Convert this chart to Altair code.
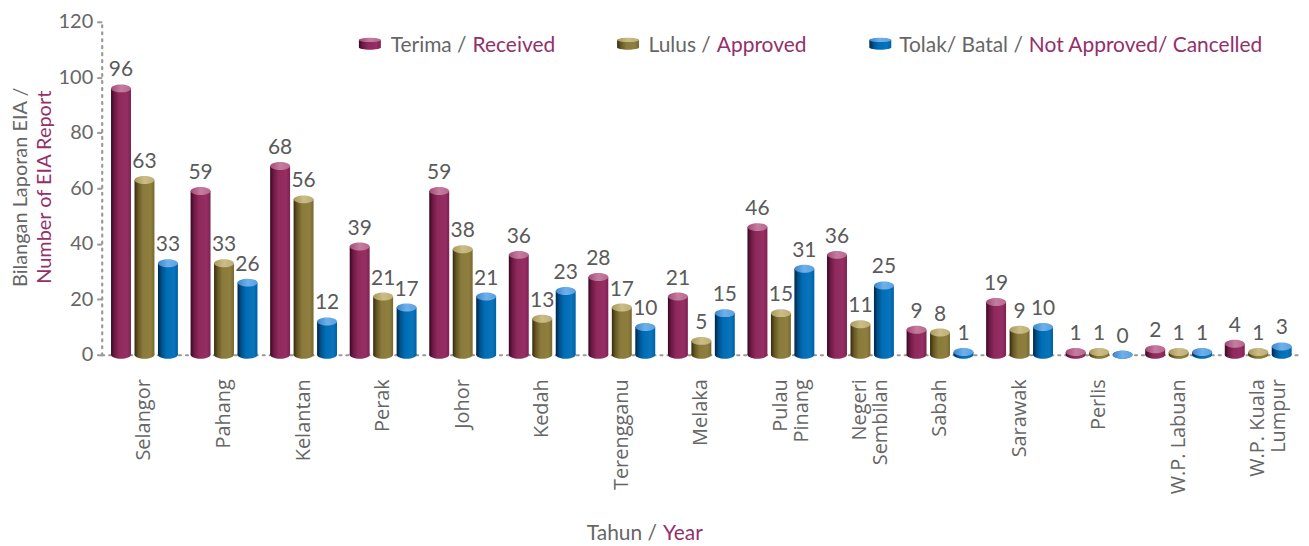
import altair as alt
import pandas as pd

# ---------------- data ----------------
states = ["Selangor", "Pahang", "Kelantan", "Perak", "Johor", "Kedah", "Terengganu",
          "Melaka", "Pulau|Pinang", "Negeri|Sembilan", "Sabah", "Sarawak", "Perlis",
          "W.P. Labuan", "W.P. Kuala|Lumpur"]
received = [96, 59, 68, 39, 59, 36, 28, 21, 46, 36, 9, 19, 1, 2, 4]
approved = [63, 33, 56, 21, 38, 13, 17, 5, 15, 11, 8, 9, 1, 1, 1]
rejected = [33, 26, 12, 17, 21, 23, 10, 15, 31, 25, 1, 10, 0, 1, 3]
series_keys = ["Terima", "Lulus", "Tolak"]
legend_grey = ["Terima /", "Lulus /", "Tolak/ Batal /"]
legend_red = ["Received", "Approved", "Not Approved/ Cancelled"]
y_ticks = [0, 20, 40, 60, 80, 100, 120]
y_title = ["Bilangan Laporan EIA /", "Number of EIA Report"]
x_title = ["Tahun /", "Year"]

rows = []
for i, s in enumerate(states):
    for key, vals in zip(series_keys, [received, approved, rejected]):
        rows.append({"state": s, "series": key, "value": vals[i]})
df = pd.DataFrame(rows)

# ---------------- styles ----------------
FONT = "Lato"
GREY = "#666666"
RED = "#93306a"
W, H = 1203, 334
TOP = 13


def lin(stops):
    return alt.Gradient(gradient="linear", x1=0, x2=1, y1=0, y2=0,
                        stops=[alt.GradientStop(offset=o, color=c) for o, c in stops])


body_grad = {
    "Terima": lin([(0, "#3a0822"), (0.18, "#6e1a45"), (0.42, "#8f2a5d"), (0.8, "#962e63"), (1, "#7c2251")]),
    "Lulus": lin([(0, "#352c0c"), (0.18, "#665724"), (0.42, "#8a7a3b"), (0.8, "#8f7f3f"), (1, "#786830")]),
    "Tolak": lin([(0, "#002447"), (0.18, "#00508a"), (0.42, "#006db5"), (0.8, "#0a74bc"), (1, "#0060a4")]),
}
top_grad = {
    "Terima": lin([(0, "#a24b77"), (0.5, "#c47d9f"), (1, "#b8688e")]),
    "Lulus": lin([(0, "#a8985c"), (0.5, "#cbbd86"), (1, "#bcae74")]),
    "Tolak": lin([(0, "#3b86cc"), (0.5, "#6fb0ea"), (1, "#5aa0e0")]),
}

ELLIPSE = "M-1,0 A1,0.4 0 1,0 1,0 A1,0.4 0 1,0 -1,0 Z"
ICON_BODY = "M-1,-0.35 L-1,0.35 A1,0.2 0 0,0 1,0.35 L1,-0.35 Z"
ICON_TOP = "M-1,-0.35 A1,0.2 0 1,0 1,-0.35 A1,0.2 0 1,0 -1,-0.35 Z"

X = alt.X("state:N", sort=states, title=None,
          scale=alt.Scale(domain=states, paddingInner=0, paddingOuter=0.0376),
          axis=alt.Axis(labelAngle=270, labelAlign="right", labelBaseline="middle",
                        labelPadding=24, ticks=False, labelFontSize=20, labelColor=GREY,
                        labelFont="Open Sans", labelLineHeight=21,
                        labelExpr="split(datum.label, '|')",
                        domainColor="#999999", domainWidth=2.2, domainDash=[2, 5],
                        domainCap="round"))
XO = alt.XOffset("series:N", sort=series_keys,
                 scale=alt.Scale(domain=series_keys, paddingInner=0.15, paddingOuter=0.27))
Y = alt.Y("value:Q", title=None, scale=alt.Scale(domain=[0, 120], nice=False),
          axis=alt.Axis(values=y_ticks, grid=False, tickSize=5, tickWidth=2, tickColor="#999999",
                        labelFontSize=20, labelColor=GREY, labelFont=FONT, labelPadding=4,
                        domainColor="#999999", domainWidth=2.2, domainDash=[2, 5],
                        domainCap="round"))

base = alt.Chart(df)
layers = []
for key in series_keys:
    sub = base.transform_filter(alt.datum.series == key)
    layers.append(sub.mark_bar(fill=body_grad[key]).encode(x=X, xOffset=XO, y=Y))
    layers.append(sub.mark_point(shape=ELLIPSE, size=400, filled=True, fill=body_grad[key],
                                 strokeWidth=0, opacity=1)
                  .encode(x=X, xOffset=XO, y=alt.datum(0)))
    layers.append(sub.mark_point(shape=ELLIPSE, size=400, filled=True, fill=top_grad[key],
                                 strokeWidth=0, opacity=1)
                  .encode(x=X, xOffset=XO, y=Y))

layers.append(base.mark_text(baseline="bottom", dy=-8, fontSize=21, color="#5a5a5a", font=FONT)
              .encode(x=X, xOffset=XO, y=Y, text="value:Q"))

# ---------------- legend ----------------
icon_x = [269, 528, 781]
seam_x = [372, 617, 930]
for i, key in enumerate(series_keys):
    one = alt.Chart(pd.DataFrame({"g": [legend_grey[i]], "r": [legend_red[i]]}))
    layers.append(one.mark_point(shape=ICON_BODY, size=484, filled=True, fill=body_grad[key],
                                 strokeWidth=0, opacity=1)
                  .encode(x=alt.value(icon_x[i]), y=alt.value(22)))
    layers.append(one.mark_point(shape=ICON_TOP, size=484, filled=True, fill=top_grad[key],
                                 strokeWidth=0, opacity=1)
                  .encode(x=alt.value(icon_x[i]), y=alt.value(22)))
    layers.append(one.mark_text(align="right", baseline="alphabetic", fontSize=21, color=GREY, font=FONT)
                  .encode(x=alt.value(seam_x[i] - 6), y=alt.value(30), text="g:N"))
    layers.append(one.mark_text(align="left", baseline="alphabetic", fontSize=21, color=RED, font=FONT)
                  .encode(x=alt.value(seam_x[i]), y=alt.value(30), text="r:N"))

# ---------------- axis titles ----------------
yt = alt.Chart(pd.DataFrame({"g": [y_title[0]], "r": [y_title[1]]}))
layers.append(yt.mark_text(angle=270, align="center", baseline="middle", fontSize=20, color=GREY, font=FONT)
              .encode(x=alt.value(-81), y=alt.value(166), text="g:N"))
layers.append(yt.mark_text(angle=270, align="center", baseline="middle", fontSize=20, color=RED, font=FONT)
              .encode(x=alt.value(-57), y=alt.value(166), text="r:N"))

xt = alt.Chart(pd.DataFrame({"g": [x_title[0]], "r": [x_title[1]]}))
layers.append(xt.mark_text(align="right", baseline="alphabetic", fontSize=21, color=GREY, font=FONT)
              .encode(x=alt.value(557), y=alt.value(520), text="g:N"))
layers.append(xt.mark_text(align="left", baseline="alphabetic", fontSize=21, color=RED, font=FONT)
              .encode(x=alt.value(563), y=alt.value(520), text="r:N"))

chart = alt.layer(*layers).properties(
    width=W, height=H,
    autosize=alt.AutoSizeParams(type="none"),
    padding={"left": 94, "top": TOP, "right": 0, "bottom": 190},
    background="white",
).configure_view(stroke=None)

chart.save("out.html", embed_options={"renderer": "svg", "actions": False})
